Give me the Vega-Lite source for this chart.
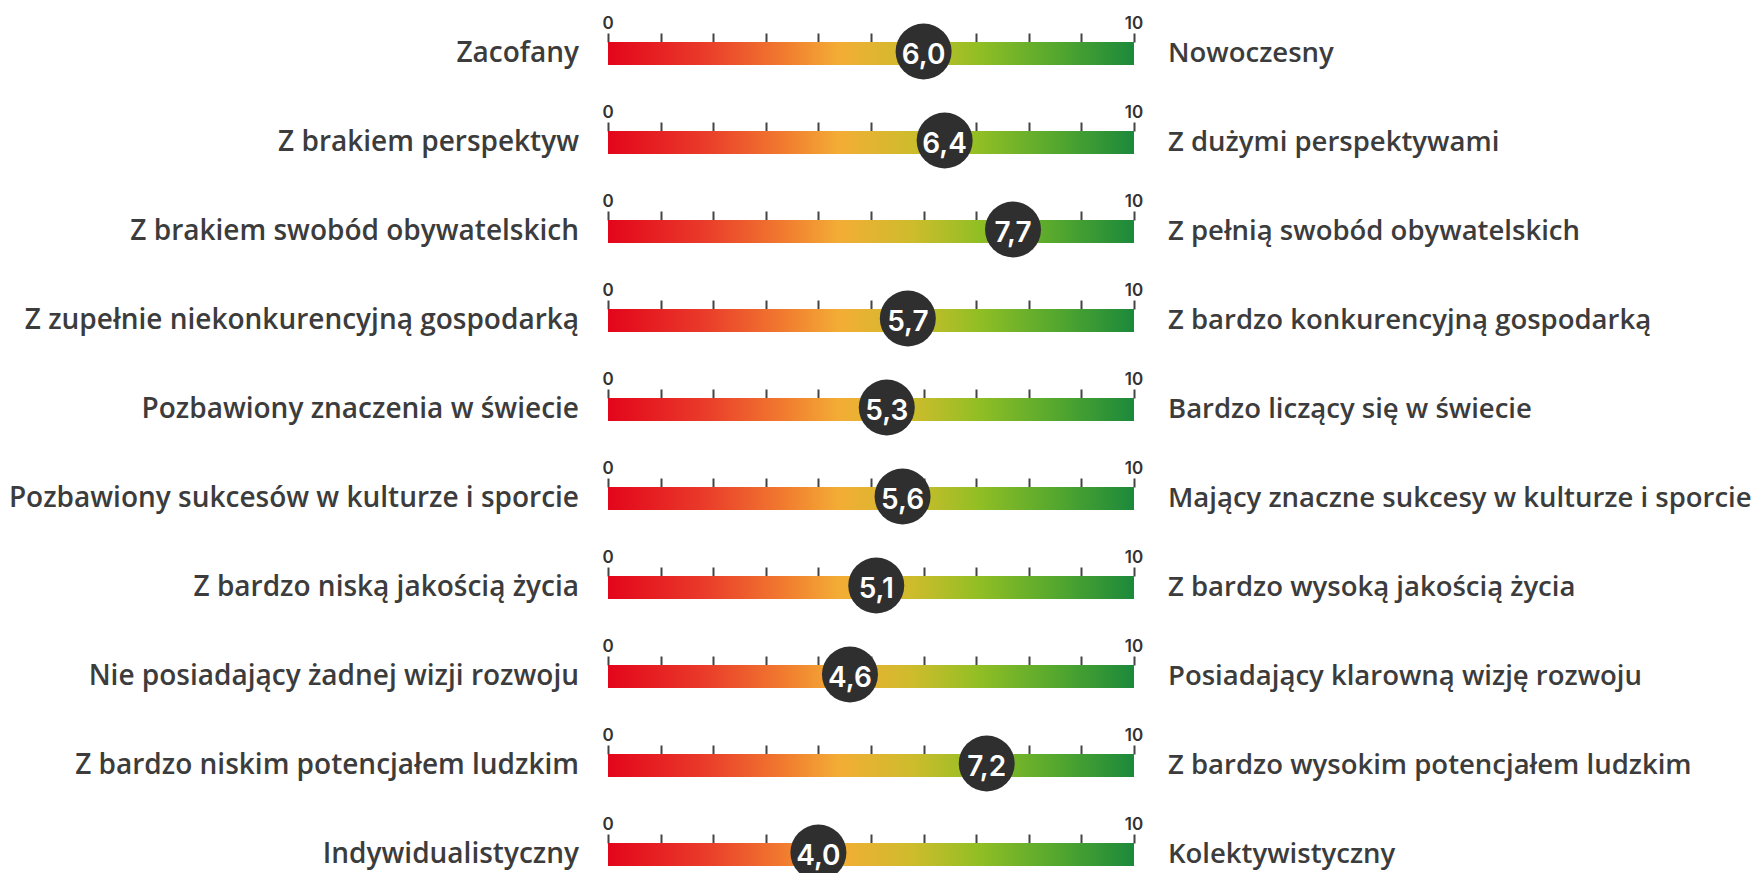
{
  "$schema": "https://vega.github.io/schema/vega-lite/v6.json",
  "autosize": {"type": "none"},
  "padding": {"left": 608, "top": 33, "right": 626, "bottom": 7},
  "width": 526,
  "height": 833,
  "background": "white",
  "data": {"values": [
    {"left": "Zacofany", "right": "Nowoczesny", "value": 6.0},
    {"left": "Z brakiem perspektyw", "right": "Z dużymi perspektywami", "value": 6.4},
    {"left": "Z brakiem swobód obywatelskich", "right": "Z pełnią swobód obywatelskich", "value": 7.7},
    {"left": "Z zupełnie niekonkurencyjną gospodarką", "right": "Z bardzo konkurencyjną gospodarką", "value": 5.7},
    {"left": "Pozbawiony znaczenia w świecie", "right": "Bardzo liczący się w świecie", "value": 5.3},
    {"left": "Pozbawiony sukcesów w kulturze i sporcie", "right": "Mający znaczne sukcesy w kulturze i sporcie", "value": 5.6},
    {"left": "Z bardzo niską jakością życia", "right": "Z bardzo wysoką jakością życia", "value": 5.1},
    {"left": "Nie posiadający żadnej wizji rozwoju", "right": "Posiadający klarowną wizję rozwoju", "value": 4.6},
    {"left": "Z bardzo niskim potencjałem ludzkim", "right": "Z bardzo wysokim potencjałem ludzkim", "value": 7.2},
    {"left": "Indywidualistyczny", "right": "Kolektywistyczny", "value": 4.0}
  ]},
  "encoding": {
    "y": {"field": "left", "type": "nominal", "sort": null, "axis": null,
      "scale": {"paddingInner": 0.741573, "paddingOuter": 0.050562, "align": 1}}
  },
  "layer": [
    {
      "mark": {"type": "rect", "fill": {"gradient": "linear", "x1": 0, "x2": 1, "y1": 0, "y2": 0, "stops": [
        {"offset": 0, "color": "#e3051b"},
        {"offset": 0.18, "color": "#e93a2a"},
        {"offset": 0.33, "color": "#f1792f"},
        {"offset": 0.44, "color": "#f3ad35"},
        {"offset": 0.58, "color": "#cdbc2c"},
        {"offset": 0.7, "color": "#93bf24"},
        {"offset": 0.85, "color": "#55a82e"},
        {"offset": 1, "color": "#1b893b"}
      ]}},
      "encoding": {
        "x": {"datum": 0, "type": "quantitative", "scale": {"domain": [0, 10], "nice": false, "zero": false},
          "axis": {"orient": "top", "values": [0,1,2,3,4,5,6,7,8,9,10], "domain": false, "ticks": false, "labels": false,
            "grid": true, "gridDash": [9, 80], "gridColor": "#444444", "gridWidth": 2, "gridOpacity": 1, "title": null}},
        "x2": {"datum": 10}
      }
    },
    {
      "mark": {"type": "text", "text": "0", "color": "#333333", "fontSize": 17, "font": "Inter", "fontWeight": 600, "align": "center", "baseline": "alphabetic", "dy": -25},
      "encoding": {"x": {"datum": 0, "type": "quantitative"}}
    },
    {
      "mark": {"type": "text", "text": "10", "color": "#333333", "fontSize": 17, "font": "Inter", "fontWeight": 600, "align": "center", "baseline": "alphabetic", "dy": -25},
      "encoding": {"x": {"datum": 10, "type": "quantitative"}}
    },
    {
      "mark": {"type": "circle", "size": 3136, "color": "#2f2f2f", "opacity": 1, "yOffset": -2},
      "encoding": {"x": {"field": "value", "type": "quantitative"}}
    },
    {
      "mark": {"type": "text", "color": "white", "fontSize": 28, "font": "Inter", "fontWeight": 600, "align": "center", "baseline": "alphabetic", "dy": 10},
      "encoding": {"x": {"field": "value", "type": "quantitative"}, "text": {"field": "value", "type": "quantitative", "format": ".1f"}}
    },
    {
      "mark": {"type": "text", "color": "#3c3c3c", "fontSize": 28, "font": "Open Sans", "fontWeight": 600, "align": "right", "baseline": "alphabetic", "dx": -29, "dy": 8},
      "encoding": {"x": {"datum": 0, "type": "quantitative"}, "text": {"field": "left", "type": "nominal"}}
    },
    {
      "mark": {"type": "text", "color": "#3c3c3c", "fontSize": 27.5, "font": "Open Sans", "fontWeight": 600, "align": "left", "baseline": "alphabetic", "dx": 34, "dy": 8},
      "encoding": {"x": {"datum": 10, "type": "quantitative"}, "text": {"field": "right", "type": "nominal"}}
    }
  ],
  "config": {
    "view": {"stroke": null},
    "locale": {"number": {"decimal": ",", "thousands": " ", "grouping": [3], "currency": ["", " zł"]}}
  }
}
